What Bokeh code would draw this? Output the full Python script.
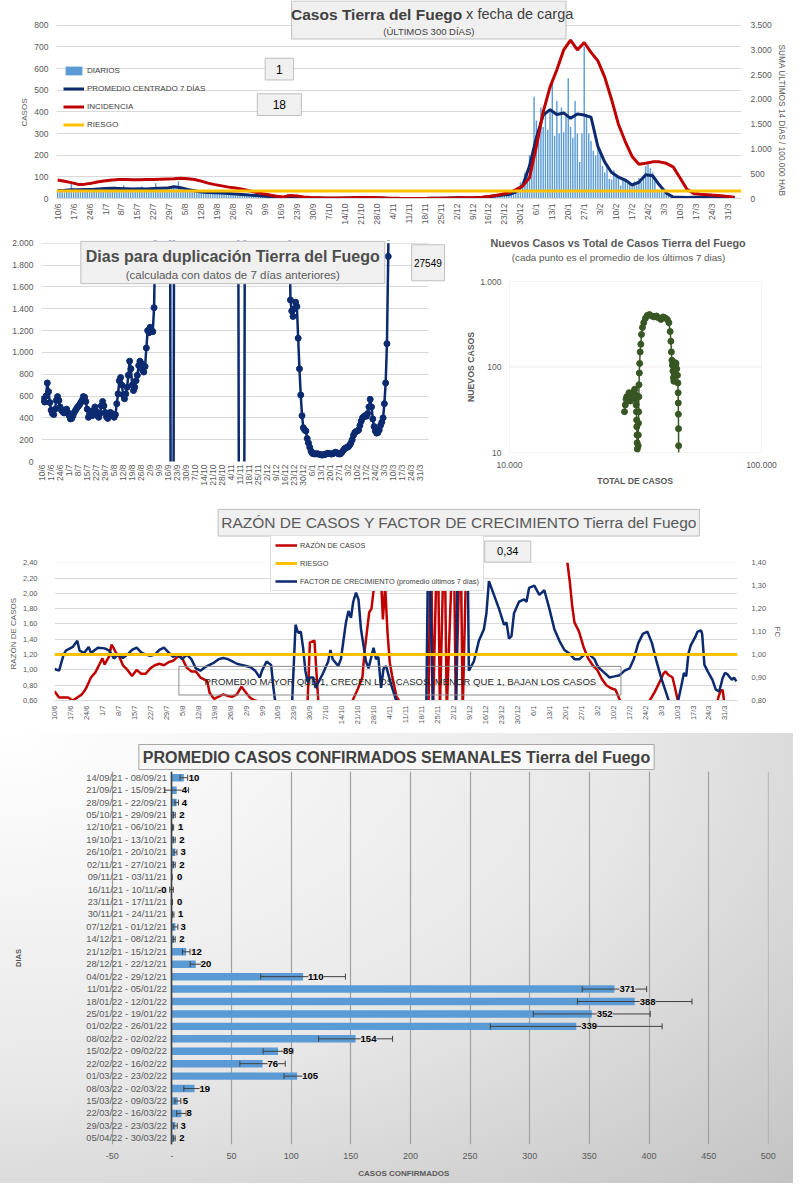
import math
from bokeh.plotting import figure
from bokeh.models import (Range1d, LinearAxis, FixedTicker, Label, Legend, LegendItem,
                          ColumnDataSource, FactorRange, Whisker, LabelSet, TeeHead,
                          BoxAnnotation, Title, CustomJSTickFormatter)
from bokeh.layouts import column, row
from bokeh.core.properties import value
from bokeh.embed import file_html
from bokeh.resources import INLINE

# ============================ DATA ============================
date_ticks = ["10/6", "17/6", "24/6", "1/7", "8/7", "15/7", "22/7", "29/7", "5/8", "12/8",
              "19/8", "26/8", "2/9", "9/9", "16/9", "23/9", "30/9", "7/10", "14/10", "21/10",
              "28/10", "4/11", "11/11", "18/11", "25/11", "2/12", "9/12", "16/12", "23/12", "30/12",
              "6/1", "13/1", "20/1", "27/1", "3/2", "10/2", "17/2", "24/2", "3/3", "10/3",
              "17/3", "24/3", "31/3"]

# daily cases, day 0 = 10/6/2021
daily_cases = [35, 30, 42, 28, 40, 33, 75, 38, 30, 45, 40, 35, 48, 42,
               45, 40, 38, 50, 42, 47, 35, 48, 52, 40, 45, 55, 38, 50,
               44, 60, 38, 42, 50, 36, 45, 48, 42, 55, 40, 46, 38, 50,
               45, 70, 40, 50, 42, 48, 52, 55, 48, 60, 45, 80, 50, 40,
               42, 38, 35, 30, 45, 28, 32, 30, 28, 35, 25, 30, 22, 28,
               25, 30, 22, 28, 20, 26, 24, 22, 20, 25, 18, 22, 20, 16,
               15, 18, 12, 16, 14, 11,
               12, 10, 8, 12, 9, 11, 8, 2, 2, 1, 0, 22, 1, 0,
               5, 3, 8, 2, 6, 1, 3, 3, 1, 2, 4, 0, 2, 2,
               1, 0, 2, 1, 0, 2, 1, 2, 3, 1, 2, 4, 1, 1,
               2, 5, 3, 1, 4, 3, 3, 3, 1, 2, 2, 1, 3, 2,
               0, 1, 0, 0, 0, 1, 0, 0, 0, 0, 0, 0, 0, 0,
               0, 1, 0, 0, 0, 0, 0, 1, 0, 2, 1, 1, 0, 1,
               2, 4, 3, 5, 2, 3, 2, 2, 3, 1, 2, 2, 3, 1,
               7, 9, 11, 10, 15, 14, 18, 12, 18, 15, 22, 25, 20, 28,
               40, 75, 70, 120, 115, 200, 150, 470, 360, 300, 420, 330, 400, 317,
               400, 550, 290, 450, 300, 420, 306, 380, 555, 330, 280, 450, 300, 169,
               300, 700, 390, 300, 265, 220, 198, 240, 230, 150, 120, 160, 90, 88,
               130, 100, 95, 60, 90, 80, 68, 70, 55, 80, 60, 95, 75, 97,
               150, 170, 140, 120, 80, 40, 35, 30, 25, 20, 18, 15, 12, 13,
               6, 4, 7, 3, 5, 6, 4, 10, 7, 12, 5, 9, 6, 7,
               4, 2, 3, 5, 2, 3, 2, 2, 3, 1, 2, 1, 3, 2]

# 7-day centred average and 14-day incidence, read every 3rd day
avg_days = list(range(0, 300, 3))
avg7 = [37, 38, 40, 40, 41, 42, 44, 46, 47, 46,
        45, 44, 45, 44, 46, 47, 48, 54, 50, 42,
        36, 30, 28, 26, 25, 23, 21, 19, 16, 14,
        11, 9, 7, 5, 5, 4, 3, 2, 2, 1,
        1, 1, 2, 2, 3, 3, 2, 2, 1, 0,
        0, 0, 0, 0, 0, 1, 1, 1, 3, 3,
        2, 2, 4, 8, 12, 16, 18, 30, 60, 150,
        280, 385, 410, 388, 395, 370, 390, 385, 375, 240,
        168, 120, 99, 85, 62, 75, 110, 105, 62, 25,
        7, 6, 5, 6, 6, 5, 4, 4, 3, 2]
incidence = [375, 350, 320, 285, 290, 310, 340, 360, 375, 385,
             385, 380, 380, 385, 385, 390, 395, 400, 410, 400,
             385, 350, 310, 280, 255, 230, 210, 185, 155, 125,
             95, 70, 45, 30, 60, 50, 30, 20, 15, 10,
             8, 10, 12, 15, 18, 20, 18, 15, 10, 6,
             3, 2, 2, 2, 3, 5, 6, 10, 12, 15,
             16, 18, 25, 40, 60, 85, 120, 180, 250, 420,
             1050, 1750, 2250, 2600, 3000, 3200, 3000, 3150, 2950, 2780,
             2450, 2000, 1500, 1150, 850, 690, 710, 740, 740, 710,
             640, 420, 190, 100, 85, 75, 65, 55, 40, 25]
riesgo_incidence = 150
last_daily = 1
last_incidence = 18

# days to doubling
doubling_a = [570, 560, 545, 600, 720, 640, 540, 470, 440, 430,
              480, 560, 595, 560, 500, 470, 455, 445, 470, 480,
              450, 420, 390, 395, 420, 450, 470, 490, 505, 520,
              540, 560, 595, 590, 550, 480, 405, 440, 460, 420,
              470, 500, 460, 420, 405, 440, 510, 550, 510, 450,
              410, 395, 420, 450, 440, 420, 405, 430, 530, 620,
              740, 770, 700, 610, 575, 620, 680, 790, 920, 850,
              700, 650, 680, 740, 790, 880, 920, 900, 840, 820,
              870, 1040, 1200, 1180, 1230, 1200, 1190, 1410, 2100]          # days 0-88
doubling_gap = [(89, 3000), (99, 5000), (100, -1000), (102, -1000), (103, 5000),
                (152, 5000), (153, -1000), (157, -1000), (158, 5000), (191, 5000)]
doubling_b = [2300, 1480, 1380, 1330, 1400, 1460, 1420, 1130, 850, 610,
              420, 310, 290, 280, 210, 170, 130, 95, 75, 70,
              70, 70, 70, 68, 65, 60, 60, 62, 65, 70,
              75, 72, 70, 68, 72, 78, 85, 80, 72, 68,
              72, 85, 100, 115, 125, 130, 135, 150, 170, 200,
              240, 265, 275, 280, 290, 330, 370, 400, 410, 420,
              415, 440, 500, 570, 500, 390, 320, 280, 260, 265,
              290, 330, 360, 400, 530, 720, 1080, 1880, 3000]              # days 192-270
last_doubling = 27549

# new cases (7-day mean) vs total cases
scatter_total = [28600, 28800, 29000, 29200, 29400, 29600, 29800, 30000, 30200, 30400,
                 30600, 30800, 31000, 31200, 31400, 31600, 31700, 31800, 31900, 31950,
                 32000, 32050, 32100, 32150, 32200, 32250, 32300, 32350, 32400, 32450,
                 32500, 32550, 32600, 32650, 32750, 32850, 33000, 33200, 33400, 33700,
                 34100, 34600, 35200, 35900, 36700, 37500, 38300, 39100, 39900, 40700,
                 41500, 42300, 42900, 43400, 43700, 43900, 44100, 44300, 44500, 44700,
                 44900, 45100, 45300, 45500, 45800, 46100, 46400, 46600, 46700, 46750,
                 46800, 46850, 46900, 46950]
scatter_new = [30, 36, 42, 45, 40, 46, 50, 44, 40, 48,
               45, 50, 44, 52, 55, 47, 42, 36, 30, 24,
               20, 16, 13, 11, 9, 5, 3, 8, 12, 16,
               22, 30, 45, 62, 85, 110, 150, 185, 240, 290,
               330, 370, 400, 410, 395, 385, 395, 375, 360, 385,
               375, 360, 330, 260, 200, 150, 120, 105, 90, 75,
               68, 80, 100, 112, 110, 95, 80, 65, 50, 38,
               28, 19, 12, 7]

# case ratio (left axis) and growth factor (right axis): (day, value)
ratio_series = [(0, 0.72), (2, 0.64), (4, 0.64), (6, 0.64), (7, 0.62), (8, 0.6), (10, 0.64), (12, 0.68), (13, 0.72), (14, 0.77),
                (16, 0.9), (18, 0.97), (20, 1.09), (21, 1.15), (22, 1.07), (24, 1.18), (25, 1.33), (26, 1.28), (27, 1.22), (28, 1.2),
                (30, 1.06), (32, 1.0), (34, 0.92), (36, 1.0), (38, 0.95), (40, 0.95), (42, 1.02), (44, 1.06), (46, 1.08), (48, 1.06),
                (50, 1.1), (52, 1.12), (54, 1.17), (55, 1.19), (56, 1.15), (58, 1.03), (60, 0.98), (62, 0.98), (64, 0.9), (66, 0.87),
                (67, 0.85), (68, 0.7), (70, 0.62), (72, 0.65), (74, 0.68), (76, 0.66), (78, 0.65), (80, 0.68), (82, 0.78), (84, 0.7),
                (86, 0.63), (88, 0.6), (90, 0.58), (92, 0.45), (110, 0.45), (111, 0.6), (112, 1.36), (114, 1.38), (115, 0.9), (116, 0.45),
                (129, 0.45), (131, 0.62), (133, 0.75), (135, 0.9), (136, 1.25), (137, 1.5), (138, 1.75), (139, 1.8), (140, 2.06), (141, 2.6),
                (142, 2.8), (143, 2.3), (144, 1.66), (145, 2.1), (146, 1.5), (147, 1.1), (148, 0.93), (150, 0.65), (151, 0.6), (152, 0.45),
                (164, 0.45), (165, 3.0), (166, 0.45), (168, 3.0), (169, 0.45), (171, 3.0), (172, 0.45), (175, 3.0), (176, 0.45), (178, 3.0),
                (179, 0.45), (181, 3.0), (224, 2.6), (225, 2.38), (226, 2.14), (227, 1.84), (228, 1.62), (230, 1.5), (232, 1.3), (234, 1.15),
                (236, 1.06), (238, 1.0), (240, 0.88), (242, 0.8), (244, 0.76), (246, 0.74), (248, 0.6), (250, 0.45), (260, 0.45), (261, 0.6),
                (263, 0.7), (265, 0.82), (267, 0.95), (268, 0.98), (269, 0.94), (271, 0.9), (272, 0.78), (274, 0.5), (290, 0.5), (291, 0.63),
                (292, 0.72), (293, 0.74), (294, 0.5), (299, 0.5)]
fc_series = [(0, 0.937), (2, 0.93), (4, 1.0), (5, 1.017), (6, 1.023), (8, 1.033), (10, 1.06), (11, 1.017), (13, 1.007), (15, 1.033),
             (16, 1.007), (19, 1.03), (22, 1.027), (24, 1.017), (26, 0.983), (28, 1.0), (30, 0.985), (32, 1.0), (34, 1.02), (36, 1.03),
             (38, 1.01), (40, 1.0), (42, 0.995), (44, 1.0), (46, 1.02), (48, 1.03), (50, 1.01), (52, 0.99), (54, 1.0), (56, 0.98),
             (58, 1.0), (60, 0.98), (62, 0.94), (64, 0.93), (66, 0.945), (68, 0.955), (70, 0.965), (72, 0.98), (74, 0.985), (76, 0.98),
             (78, 0.97), (80, 0.96), (82, 0.955), (84, 0.95), (86, 0.945), (88, 0.93), (90, 0.9), (91, 0.93), (93, 0.97), (95, 0.955),
             (96, 0.855), (97, 0.78), (100, 0.75), (104, 0.75), (105.7, 1.13), (106.8, 1.095), (108, 1.1), (109, 1.03), (110, 0.93), (111, 0.88),
             (112, 0.9), (113.5, 0.9), (114.5, 0.855), (117.8, 0.92), (120, 0.97), (121, 1.02), (122, 0.98), (124.4, 0.95), (125.6, 0.98), (126.7, 1.06),
             (127.8, 1.14), (128.9, 1.19), (130, 1.16), (131, 1.23), (132.2, 1.27), (133.3, 1.24), (134.4, 1.11), (135.5, 1.04), (136.6, 0.97), (137.7, 0.94),
             (139.9, 1.03), (141, 0.98), (142, 0.99), (143.2, 0.855), (144.3, 0.94), (145.4, 0.95), (147.6, 0.87), (149.8, 0.8), (151, 0.75), (163, 0.75),
             (164, 1.6), (166, 0.75), (176, 0.75), (177, 1.6), (181, 1.6), (181.7, 0.93), (183.9, 0.97), (186.1, 1.06), (188.3, 1.11), (189.4, 1.18),
             (190.5, 1.32), (192.7, 1.26), (194.9, 1.2), (197.1, 1.13), (198.2, 1.14), (199.3, 1.07), (200.4, 1.08), (201.5, 1.18), (203.7, 1.23), (205.9, 1.24),
             (207, 1.23), (208.1, 1.29), (210.4, 1.3), (212.6, 1.26), (214.8, 1.28), (217, 1.2), (219.2, 1.11), (221.4, 1.06), (223.6, 1.02), (225.8, 1.005),
             (228, 0.98), (230.2, 0.98), (232.4, 1.0), (234.6, 1.0), (236.8, 0.98), (237.9, 0.955), (239, 0.94), (241.2, 0.92), (243.4, 0.9), (245.6, 0.905),
             (247.8, 0.91), (250, 0.93), (252.2, 0.94), (254, 0.98), (256, 1.05), (258, 1.09), (260, 1.1), (262, 1.05), (264, 0.97), (266, 0.9),
             (268, 0.84), (270, 0.78), (272, 0.75), (273.5, 0.8), (275, 0.87), (276, 0.92), (277, 0.905), (278, 1.005), (279, 1.04), (281, 1.077),
             (282, 1.1), (283.5, 1.105), (284, 1.09), (285, 0.955), (286.5, 0.926), (288.5, 0.89), (290, 0.847), (291.5, 0.84), (293, 0.898), (294, 0.92),
             (295, 0.915), (297, 0.89), (298, 0.9), (299, 0.883)]
riesgo_fc = 1.0
last_ratio = "0,34"

# weekly averages of confirmed cases
weeks = ["14/09/21 - 08/09/21", "21/09/21 - 15/09/21", "28/09/21 - 22/09/21", "05/10/21 - 29/09/21",
         "12/10/21 - 06/10/21", "19/10/21 - 13/10/21", "26/10/21 - 20/10/21", "02/11/21 - 27/10/21",
         "09/11/21 - 03/11/21", "16/11/21 - 10/11/21", "23/11/21 - 17/11/21", "30/11/21 - 24/11/21",
         "07/12/21 - 01/12/21", "14/12/21 - 08/12/21", "21/12/21 - 15/12/21", "28/12/21 - 22/12/21",
         "04/01/22 - 29/12/21", "11/01/22 - 05/01/22", "18/01/22 - 12/01/22", "25/01/22 - 19/01/22",
         "01/02/22 - 26/01/22", "08/02/22 - 02/02/22", "15/02/22 - 09/02/22", "22/02/22 - 16/02/22",
         "01/03/22 - 23/02/22", "08/03/22 - 02/03/22", "15/03/22 - 09/03/22", "22/03/22 - 16/03/22",
         "29/03/22 - 23/03/22", "05/04/22 - 30/03/22"]
weekly_avg = [10, 4, 4, 2, 1, 2, 3, 2, 0, -0.3, 0, 1, 3, 2, 12, 20, 110, 371, 388, 352,
              339, 154, 89, 76, 105, 19, 5, 8, 3, 2]
weekly_err = [3.2, 10, 1.5, 0.8, 0.5, 0.8, 1.2, 0.8, 0.3, 1.5, 0.5, 0.7, 2, 0.8, 3.2, 4.7, 35.5, 27, 48, 49,
              72, 31, 12.5, 19, 11, 9, 2.5, 4, 1.5, 0.8]

# ============================ STYLE ============================
FONT = "Liberation Sans"
NAVY = "#0B2A6F"
RED = "#C00000"
YEL = "#FFC000"
BLUE = "#5B9BD5"
GREEN = "#375623"
GRID = "#D9D9D9"
TXT = "#595959"
DARK = "#404040"
SX = 793 / 809
OUTLINE = {"outline": "1px solid #D6D6D6", "outline-offset": "-2px"}


def thousands():
    return CustomJSTickFormatter(code=r"return Math.round(tick).toString().replace(/\B(?=(\d{3})+(?!\d))/g, '.');")


def comma2():
    return CustomJSTickFormatter(code="return tick.toFixed(2).replace('.', ',');")


def make_fig(W, H, fl, fr, ft, fb, xr, yr, **kw):
    p = figure(width=W, height=H, x_range=xr, y_range=yr, output_backend="svg", title=None,
               toolbar_location=None, min_border_left=fl, min_border_right=W - fr,
               min_border_top=ft, min_border_bottom=H - fb, **kw)
    p.outline_line_color = None
    p.xgrid.grid_line_color = None
    p.ygrid.grid_line_color = GRID
    return p


def style_axis(ax, size="8.5px", standoff=6, color=TXT):
    ax.axis_line_color = None
    ax.major_tick_line_color = None
    ax.minor_tick_line_color = None
    ax.major_tick_out = 0
    ax.major_tick_in = 0
    ax.minor_tick_out = 0
    ax.minor_tick_in = 0
    ax.major_label_text_font = FONT
    ax.major_label_text_font_size = size
    ax.major_label_text_color = color
    ax.major_label_standoff = standoff
    ax.axis_label_text_font = FONT
    ax.axis_label_text_font_style = "normal"
    ax.axis_label_text_color = color


def side_title(p, text, side, offset, standoff, size="8px"):
    # align "left": on the left side the text starts at frame bottom - offset (reading upwards),
    # on the right side it starts at frame top + offset (reading downwards)
    p.add_layout(Title(text=text, align="left", offset=offset, standoff=standoff, text_font=FONT,
                       text_font_size=size, text_font_style="normal", text_color=TXT), side)


def mapper(fl, fr, ft, fb, x0, x1, y0, y1, X0, Y0, sy, logx=False, logy=False):
    def mx(X):
        t = ((X - X0) * SX - fl) / (fr - fl)
        if logx:
            return 10 ** (math.log10(x0) + t * (math.log10(x1) - math.log10(x0)))
        return x0 + t * (x1 - x0)

    def my(Y):
        t = ((Y - Y0) * sy - ft) / (fb - ft)
        if logy:
            return 10 ** (math.log10(y1) - t * (math.log10(y1) - math.log10(y0)))
        return y1 - t * (y1 - y0)
    return mx, my


def extend_top(y0, y1, ft_old, fb, ft_new=0.0):
    # value at the new frame top when the frame is extended upwards
    return y1 + (ft_old - ft_new) * (y1 - y0) / (fb - ft_old)


def add_box(p, m, X1, X2, Y1, Y2, fill="#F0F0F0", line="#BFBFBF"):
    mx, my = m
    p.add_layout(BoxAnnotation(left=mx(X1), right=mx(X2), top=my(Y1), bottom=my(Y2),
                               fill_color=fill if fill else "white", fill_alpha=1.0 if fill else 0.0,
                               line_color=line, line_width=1, line_alpha=1.0))


def add_mask(p, **kw):
    p.add_layout(BoxAnnotation(fill_color="white", fill_alpha=1.0, line_color=None, **kw))


def add_text(p, m, X, Y, text, size, align="center", style="normal", color=DARK, angle=0):
    mx, my = m
    p.add_layout(Label(x=mx(X), y=my(Y), text=text, text_align=align, text_baseline="middle",
                       text_font=FONT, text_font_size=size, text_font_style=style, text_color=color,
                       angle=angle))


tick_days = [7 * i for i in range(len(date_ticks))]
date_overrides = {d: t for d, t in zip(tick_days, date_ticks)}


def date_axis(ax, size, standoff):
    ax.ticker = FixedTicker(ticks=tick_days)
    ax.major_label_overrides = date_overrides
    style_axis(ax, size, standoff)
    ax.major_label_orientation = math.pi / 2


# ============================ FIG 1 ============================
W1, H1 = 793, 229
SY1 = H1 / 232
F1 = (56, 741, 0, 198)
X1R = (-0.5, 300)
Y1TOP = extend_top(0, 800, 25 * SY1, 198)
p1 = make_fig(W1, H1, *F1, Range1d(*X1R), Range1d(0, Y1TOP))
p1.extra_y_ranges = {"inc": Range1d(0, Y1TOP * 3500 / 800)}
m1 = mapper(*F1, X1R[0], X1R[1], 0, Y1TOP, 0, 0, SY1)

days = list(range(len(daily_cases)))
r_bar = p1.vbar(x=days, top=daily_cases, width=0.62, fill_color=BLUE, line_color=None)
r_avg = p1.line(avg_days, avg7, line_color=NAVY, line_width=3)
r_inc = p1.line(avg_days, incidence, line_color=RED, line_width=3, y_range_name="inc")
r_rsk = p1.line(x=list(X1R), y=[riesgo_incidence, riesgo_incidence], line_color=YEL, line_width=3,
                y_range_name="inc")

ya = p1.yaxis[0]
ya.ticker = FixedTicker(ticks=list(range(0, 801, 100)))
p1.ygrid[0].ticker = FixedTicker(ticks=list(range(0, 801, 100)))
style_axis(ya, "8.5px", 8)

ra = LinearAxis(y_range_name="inc", ticker=FixedTicker(ticks=list(range(0, 3501, 500))), formatter=thousands())
style_axis(ra, "8.5px", 9)
p1.add_layout(ra, "right")
side_title(p1, "CASOS", "left", 72, 5, "8px")
side_title(p1, "SUMA ÚLTIMOS 14 DÍAS / 100.000 HAB", "right", 44, 5, "8.3px")

date_axis(p1.xaxis[0], "8.5px", 5)
p1.xaxis[0].axis_line_color = GRID

add_box(p1, m1, 297, 577, 0.5, 39)
add_text(p1, m1, 471, 14, "Casos Tierra del Fuego", "15.5px", align="right", style="bold")
add_text(p1, m1, 475, 14, "x fecha de carga", "14.5px", align="left")
add_text(p1, m1, 437, 31, "(ÚLTIMOS 300 DÍAS)", "9.5px")
add_box(p1, m1, 270, 299, 58.5, 80.5)
add_text(p1, m1, 284.5, 69.5, str(last_daily), "12px", color="#000000")
add_box(p1, m1, 262, 307, 94.5, 116.5)
add_text(p1, m1, 284.5, 105.5, str(last_incidence), "12px", color="#000000")

leg1 = Legend(items=[LegendItem(label="DIARIOS", renderers=[r_bar]),
                     LegendItem(label="PROMEDIO CENTRADO 7 DÍAS", renderers=[r_avg]),
                     LegendItem(label="INCIDENCIA", renderers=[r_inc]),
                     LegendItem(label="RIESGO", renderers=[r_rsk])],
              location=(7, 68), orientation="vertical", border_line_color=None,
              background_fill_alpha=0, label_text_font=FONT, label_text_font_size="8px",
              label_text_color=DARK, glyph_width=21, glyph_height=11, label_height=11,
              spacing=7, padding=0, margin=0, label_standoff=3)
p1.add_layout(leg1)
p1.styles = OUTLINE

# ============================ FIG 2 ============================
W2, H2 = 447, 272
SY2 = H2 / 276
F2_old = (41, 428, 246 - 232, 232)
px_per_day2 = (F2_old[1] - F2_old[0]) / 300.8
F2 = (41, 446, 11, 232)
X2R = (-0.5, -0.5 + (F2[1] - F2[0]) / px_per_day2)
Y2TOP = extend_top(0, 2000, (246 - 232) * SY2, 232, 11)
p2 = make_fig(W2, H2, *F2, Range1d(*X2R), Range1d(0, Y2TOP))
m2 = mapper(*F2, X2R[0], X2R[1], 0, Y2TOP, 0, 232, SY2)
dup_x = list(range(0, 89)) + [d for d, _ in doubling_gap] + list(range(192, 271))
dup_y = doubling_a + [v for _, v in doubling_gap] + doubling_b
p2.line(dup_x, dup_y, line_color=NAVY, line_width=2.5)
p2.scatter(dup_x, dup_y, size=6, fill_color=NAVY, line_color=NAVY)
ya2 = p2.yaxis[0]
ya2.ticker = FixedTicker(ticks=list(range(0, 2001, 200)))
p2.ygrid[0].ticker = FixedTicker(ticks=list(range(0, 2001, 200)))
ya2.formatter = thousands()
style_axis(ya2, "8.5px", 8)
date_axis(p2.xaxis[0], "8.5px", 3)
add_mask(p2, bottom=2000)            # plot area ends at 2.000
add_mask(p2, left=300.3)             # plot area ends at the right
add_box(p2, m2, 82, 392, 244, 287)
add_text(p2, m2, 237, 259, "Dias para duplicación Tierra del Fuego", "16px", style="bold", color="#4D4D4D")
add_text(p2, m2, 237, 278, "(calculada con datos de 7 días anteriores)", "11.5px", color=TXT)
add_box(p2, m2, 419.5, 453, 247.5, 284)
add_text(p2, m2, 436, 266, str(last_doubling), "10px", color="#000000")
p2.styles = OUTLINE

# ============================ FIG 3 ============================
# whole figure is the frame; axes are fixed at the plot-area edges
W3, H3 = 346, 272
PA3 = (62, 314, 52, 223)                 # plot area in figure pixels
dec_x = (PA3[1] - PA3[0])                # px per decade (x)
dec_y = (PA3[3] - PA3[2]) / 2            # px per decade (y)
X3R = (10 ** (4 - PA3[0] / dec_x), 10 ** (5 + (W3 - PA3[1]) / dec_x))
Y3R = (10 ** (1 - (H3 - PA3[3]) / dec_y), 10 ** (3 + PA3[2] / dec_y))
F3 = (0, W3, 0, H3)
p3 = make_fig(W3, H3, *F3, Range1d(*X3R), Range1d(*Y3R), x_axis_type="log", y_axis_type="log")
p3.min_border = 0
p3.ygrid.grid_line_color = None
m3 = mapper(*F3, X3R[0], X3R[1], Y3R[0], Y3R[1], 456, 232, SY2, logx=True, logy=True)
p3.add_layout(BoxAnnotation(left=10000, right=100000, bottom=100, top=100, fill_alpha=0,
                            line_color=GRID, line_width=1, level="underlay"))
p3.line(scatter_total, scatter_new, line_color=GREEN, line_width=1.5)
p3.scatter(scatter_total, scatter_new, size=6, fill_color=GREEN, line_color=GREEN)
p3.add_layout(BoxAnnotation(top=10, fill_color="white", fill_alpha=1.0, line_color=None, level="glyph"))
p3.add_layout(BoxAnnotation(left=10000, right=100000, bottom=10, top=1000, fill_alpha=0,
                            line_color=GRID, line_width=1, level="glyph"))
xa3 = p3.xaxis[0]
xa3.ticker = FixedTicker(ticks=[10000, 100000])
xa3.formatter = thousands()
style_axis(xa3, "8.5px", 9)
xa3.fixed_location = 10
ya3 = p3.yaxis[0]
ya3.ticker = FixedTicker(ticks=[10, 100, 1000])
ya3.formatter = thousands()
style_axis(ya3, "8.5px", 8)
ya3.fixed_location = 10000
add_text(p3, m3, 630, 246, "Nuevos Casos vs Total de Casos Tierra del Fuego", "10.8px", style="bold", color=TXT)
add_text(p3, m3, 630.5, 260.5, "(cada punto es el promedio de los últimos 7 dias)", "9.8px", color=TXT)
add_text(p3, m3, 647.5, 487.3, "TOTAL DE CASOS", "8.7px", style="bold", color=TXT)
add_text(p3, m3, 480, 371.5, "NUEVOS CASOS", "8.7px", style="bold", color=TXT, angle=math.pi / 2)
p3.styles = OUTLINE

# ============================ FIG 4 ============================
W4, H4 = 793, 232
SY4 = H4 / 235
F4_top_old = (570 - 508) * SY4
F4 = (54, 737, 0, 199)
X4R = (0, 299.5)
Y4TOP = extend_top(0.6, 2.4, F4_top_old, 199)
FCTOP = extend_top(0.8, 1.4, F4_top_old, 199)
p4 = make_fig(W4, H4, *F4, Range1d(*X4R), Range1d(0.6, Y4TOP))
p4.extra_y_ranges = {"fc": Range1d(0.8, FCTOP)}
m4 = mapper(*F4, X4R[0], X4R[1], 0.6, Y4TOP, 0, 508, SY4)
r_rc = p4.line([d for d, _ in ratio_series], [v for _, v in ratio_series], line_color=RED, line_width=2.5)
r_fc = p4.line([d for d, _ in fc_series], [v for _, v in fc_series], line_color=NAVY, line_width=2.5,
               y_range_name="fc")
r_rsk4 = p4.line(x=list(X4R), y=[riesgo_fc, riesgo_fc], line_color=YEL, line_width=3, y_range_name="fc")
left_ticks = [0.6, 0.8, 1.0, 1.2, 1.4, 1.6, 1.8, 2.0, 2.2, 2.4]
ya4 = p4.yaxis[0]
ya4.ticker = FixedTicker(ticks=left_ticks)
p4.ygrid[0].ticker = FixedTicker(ticks=left_ticks)
ya4.formatter = comma2()
style_axis(ya4, "7.5px", 17)
ra4 = LinearAxis(y_range_name="fc", ticker=FixedTicker(ticks=[0.8, 0.9, 1.0, 1.1, 1.2, 1.3, 1.4]), formatter=comma2())
style_axis(ra4, "7.5px", 14)
p4.add_layout(ra4, "right")
side_title(p4, "RAZÓN DE CASOS", "left", 31, 4, "8px")
side_title(p4, "FC", "right", 125, 7, "8px")
date_axis(p4.xaxis[0], "7.5px", 5)
p4.xaxis[0].axis_line_color = GRID

add_mask(p4, bottom=2.4)             # plot area ends at 2,40
add_box(p4, m4, 222, 713, 516, 543)
add_text(p4, m4, 468, 529.5, "RAZÓN DE CASOS Y FACTOR DE CRECIMIENTO Tierra del Fuego", "15.5px", color=TXT)
add_box(p4, m4, 494, 541, 548, 569.5)
add_text(p4, m4, 517.5, 558.5, last_ratio, "11px", color="#000000")
add_box(p4, m4, 182, 633, 675, 704, fill=None, line="#8C8C8C")
add_text(p4, m4, 408, 690, "PROMEDIO MAYOR QUE 1, CRECEN LOS CASOS, MENOR QUE 1, BAJAN LOS CASOS", "9.6px",
         color="#262626")
leg4 = Legend(items=[LegendItem(label="RAZÓN DE CASOS", renderers=[r_rc]),
                     LegendItem(label="RIESGO", renderers=[r_rsk4]),
                     LegendItem(label="FACTOR DE CRECIMIENTO (promedio últimos 7 días)", renderers=[r_fc])],
              location=(216, 109), orientation="vertical", border_line_color="#BFBFBF",
              background_fill_color="white", background_fill_alpha=1.0,
              label_text_font=FONT, label_text_font_size="7.3px", label_text_color=DARK,
              glyph_width=22, glyph_height=10, label_height=10, spacing=8, padding=4, margin=0,
              label_standoff=3)
p4.add_layout(leg4)
p4.styles = OUTLINE

# ============================ FIG 5 ============================
W5, H5 = 793, 450
SY5 = H5 / 457
px_per_unit5 = (783.3 - 114) * SX / 550
F5 = (24, 768, 38, 411)
X5R = (-50 - (114 * SX - F5[0]) / px_per_unit5, -50 + (F5[1] - 114 * SX) / px_per_unit5)
p5 = figure(width=W5, height=H5, x_range=Range1d(*X5R),
            y_range=FactorRange(factors=list(reversed(weeks))), output_backend="svg",
            toolbar_location=None, min_border_left=F5[0], min_border_right=W5 - F5[1],
            min_border_top=F5[2], min_border_bottom=H5 - F5[3])
p5.outline_line_color = None
p5.background_fill_color = None
p5.border_fill_color = None
p5.styles = {"background": "radial-gradient(farthest-corner at 0% 0%, #ffffff 0%, #e8e8e8 55%, #c3c3c3 100%)"}

src = ColumnDataSource(dict(
    week=weeks, val=weekly_avg,
    lo=[v - e for v, e in zip(weekly_avg, weekly_err)],
    hi=[v + e for v, e in zip(weekly_avg, weekly_err)],
    lbl=[f"{v:.0f}" for v in weekly_avg],
    xoff=[5 if v >= 0 else -5 for v in weekly_avg],
    align=["left" if v >= 0 else "right" for v in weekly_avg]))
p5.hbar(y="week", left=0, right="val", height=0.6, fill_color=BLUE, line_color=None, source=src)
p5.add_layout(Whisker(source=src, base="week", lower="lo", upper="hi", dimension="width",
                      line_color="#404040", line_width=1, level="annotation",
                      lower_head=TeeHead(size=6, line_color="#404040", line_width=1),
                      upper_head=TeeHead(size=6, line_color="#404040", line_width=1)))
p5.add_layout(LabelSet(source=src, x="val", y="week", text="lbl", x_offset="xoff", text_align="align",
                       text_baseline="middle", text_font=value(FONT),
                       text_font_size="9.5px", text_font_style="bold", text_color="#000000",
                       background_fill_color="#E2E2E2", background_fill_alpha=0.9))

xa5 = p5.xaxis[0]
xa5.ticker = FixedTicker(ticks=list(range(-50, 501, 50)))
xa5.formatter = CustomJSTickFormatter(code="return tick == 0 ? '-' : Math.round(tick).toString();")
style_axis(xa5, "9px", 8)
p5.xgrid[0].ticker = FixedTicker(ticks=list(range(-50, 501, 50)))
p5.xgrid.grid_line_color = "#A0A0A0"
p5.xgrid.grid_line_width = 1.2
p5.ygrid.grid_line_color = None
ya5 = p5.yaxis[0]
style_axis(ya5, "9.3px", 5)
ya5.fixed_location = 0
ya5.axis_line_color = DARK
ya5.axis_line_width = 1.6

p5.title.text = "PROMEDIO CASOS CONFIRMADOS SEMANALES Tierra del Fuego"
p5.title.align = "center"
p5.title.text_font = FONT
p5.title.text_font_size = "16px"
p5.title.text_font_style = "bold"
p5.title.text_color = DARK
p5.title.background_fill_color = "#F7F7F7"
p5.title.border_line_color = "#A6A6A6"
p5.title.padding = 4
p5.title.standoff = 4
p5.add_layout(Title(text="DIAS", align="center", text_font=FONT, text_font_size="7.5px",
                    text_font_style="bold", text_color=TXT, standoff=3), "left")
p5.add_layout(Title(text="CASOS CONFIRMADOS", align="left", offset=365 * SX - F5[0],
                    text_font=FONT, text_font_size="8px", text_font_style="bold", text_color=TXT), "below")

layout = column(row(p1), row(row(p2), row(p3)), row(p4), row(p5))
with open("out.html", "w") as f:
    f.write(file_html(layout, INLINE))
